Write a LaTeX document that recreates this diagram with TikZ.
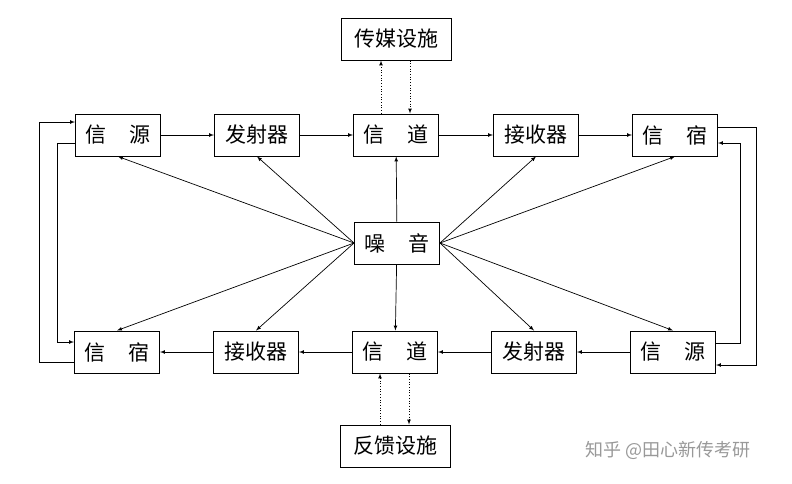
\documentclass[tikz,border=0pt]{standalone}
\usepackage{fontspec}
\newfontfamily\cjk{Noto Sans CJK SC}
\usetikzlibrary{arrows,calc}

\begin{document}
\begin{tikzpicture}
[   x=1pt,y=-1pt,
    box/.style={draw,line width=1pt,minimum width=85pt,minimum height=42pt,inner sep=0pt,font=\cjk\fontsize{21}{21}\selectfont},
    widebox/.style={box,minimum width=110pt},
    link/.style={-latex,line width=0.7pt},
    faint/.style={-latex,line width=0.7pt,dotted}
]
    \useasboundingbox (0,0) rectangle (792,483);
    % upper row
    \node[box] (src1) at (118,135) {信\hspace{1.1em}源};
    \node[box] (tx1) at (257,135) {发射器};
    \node[box] (ch1) at (396,135) {信\hspace{1.1em}道};
    \node[box] (rx1) at (536,135) {接收器};
    \node[box] (dst1) at (675,135) {信\hspace{1.1em}宿};
    % lower row
    \node[box] (dst2) at (117,352) {信\hspace{1.1em}宿};
    \node[box] (rx2) at (256,352) {接收器};
    \node[box] (ch2) at (395,352) {信\hspace{1.1em}道};
    \node[box] (tx2) at (534,352) {发射器};
    \node[box] (src2) at (673,352) {信\hspace{1.1em}源};
    \node[box] (noise) at (397,243) {噪\hspace{1.1em}音};
    \node[widebox] (media) at (396,39) {传媒设施};
    \node[widebox] (feedback) at (395,446) {反馈设施};

    \draw[link] (src1) -- (tx1);
    \draw[link] (tx1) -- (ch1);
    \draw[link] (ch1) -- (rx1);
    \draw[link] (rx1) -- (dst1);
    \draw[link] (src2) -- (tx2);
    \draw[link] (tx2) -- (ch2);
    \draw[link] (ch2) -- (rx2);
    \draw[link] (rx2) -- (dst2);

    % noise
    \draw[link] (noise.west) -- (src1.south);
    \draw[link] (noise.west) -- (tx1.south);
    \draw[link] (noise.west) -- (dst2.north);
    \draw[link] (noise.west) -- (rx2.north);
    \draw[link] (noise.east) -- (rx1.south);
    \draw[link] (noise.east) -- (dst1.south);
    \draw[link] (noise.east) -- (tx2.north);
    \draw[link] (noise.east) -- (src2.north);
    \draw[link] (noise) -- (ch1);
    \draw[link] (noise) -- (ch2);

    \draw[faint] ([xshift=-15pt]ch1.north) -- ([xshift=-15pt]media.south);
    \draw[faint] ([xshift=14pt]media.south) -- ([xshift=14pt]ch1.north);
    \draw[faint] ([xshift=-15pt]feedback.north) -- ([xshift=-15pt]ch2.south);
    \draw[faint] ([xshift=14pt]ch2.south) -- ([xshift=14pt]feedback.north);

    % feedback loops
    \draw[link] ([yshift=-10pt]dst2.west) -- ++(-35,0) |- ([yshift=13pt]src1.west);
    \draw[link] ([yshift=-8pt]src1.west) -- ++(-18,0) |- ([yshift=10pt]dst2.west);
    \draw[link] ([yshift=8pt]dst1.east) -- ++(38,0) |- ([yshift=-13pt]src2.east);
    \draw[link] ([yshift=9pt]src2.east) -- ++(24,0) |- ([yshift=-8pt]dst1.east);

    \node[text=black!40,font=\cjk\fontsize{18}{18}\selectfont] (mark) at (668,450) {知乎 @田心新传考研};
\end{tikzpicture}
\end{document}
